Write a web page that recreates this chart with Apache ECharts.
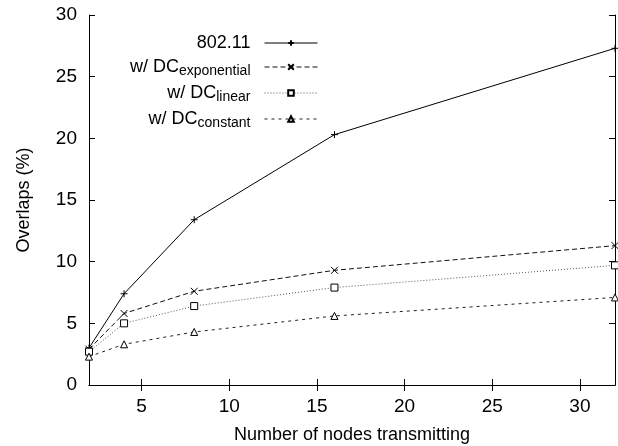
<!DOCTYPE html>
<html>
<head>
<meta charset="utf-8">
<script src="https://cdn.jsdelivr.net/npm/echarts@6/dist/echarts.min.js"></script>
<style>
  html, body { margin: 0; padding: 0; background: #fff; }
  #chart { width: 618px; height: 446px; }
</style>
</head>
<body>
<div id="chart"></div>
<script>
// number of nodes transmitting
const nodes = [2, 4, 8, 16, 32];
// overlaps (%)
const plain80211 = [3.0, 7.4, 13.4, 20.3, 27.3];
const dcExponential = [2.9, 5.8, 7.6, 9.3, 11.3];
const dcLinear = [2.7, 5.0, 6.4, 7.9, 9.7];
const dcConstant = [2.3, 3.3, 4.3, 5.6, 7.1];
const xTicks = [5, 10, 15, 20, 25, 30];

const pts = arr => nodes.map((n, i) => [n, arr[i]]);

const font = 'Liberation Sans, Arial, Helvetica, sans-serif';
const plusPath = 'path://M0,5L10,5M5,0L5,10';
const crossPath = 'path://M0,0L10,10M10,0L0,10';

const rich = {
  sub: { fontSize: 14, fontFamily: font, color: '#000', padding: [9, 0, 0, 0] }
};

function legendFor(name, top) {
  return {
    data: [name],
    right: 295,
    top: top,
    orient: 'vertical',
    align: 'right',
    itemWidth: 53,
    itemHeight: 7,
    selectedMode: false,
    lineStyle: { width: 1 },
    textStyle: { fontSize: 18, fontFamily: font, color: '#000', padding: [0, 9, 0, 0], rich: rich },
    formatter: function (n) {
      if (n === '802.11') return n;
      const sub = n.replace('w/ DC', '');
      return 'w/ DC{sub|' + sub + '}';
    }
  };
}

const axisLine = { show: true, lineStyle: { color: '#000', width: 1 } };
const tickStyle = { inside: true, length: 6, lineStyle: { color: '#000' } };

const option = {
  animation: false,
  backgroundColor: '#fff',
  grid: { left: 89, right: 3, top: 15, bottom: 61, containLabel: false, outerBoundsMode: 'none' },
  legend: [
    legendFor('802.11', 29),
    legendFor('w/ DCexponential', 53),
    legendFor('w/ DClinear', 79),
    legendFor('w/ DCconstant', 105)
  ],
  xAxis: [
    {
      type: 'value', min: 2, max: 32, position: 'bottom',
      name: 'Number of nodes transmitting', nameLocation: 'middle', nameGap: 41,
      nameTextStyle: { fontSize: 18, fontFamily: font, color: '#000' },
      axisLine: axisLine,
      axisTick: Object.assign({ customValues: xTicks }, tickStyle),
      axisLabel: { customValues: xTicks, fontSize: 19, fontFamily: font, color: '#000', margin: 12 },
      splitLine: { show: false }
    },
    {
      type: 'value', min: 2, max: 32, position: 'top',
      axisLine: axisLine,
      axisTick: Object.assign({ customValues: xTicks }, tickStyle),
      axisLabel: { show: false },
      splitLine: { show: false }
    }
  ],
  yAxis: [
    {
      type: 'value', min: 0, max: 30, interval: 5, position: 'left',
      name: 'Overlaps (%)', nameLocation: 'middle', nameGap: 56,
      nameTextStyle: { fontSize: 18, fontFamily: font, color: '#000' },
      axisLine: axisLine,
      axisTick: tickStyle,
      axisLabel: { fontSize: 19, fontFamily: font, color: '#000', margin: 12 },
      splitLine: { show: false }
    },
    {
      type: 'value', min: 0, max: 30, interval: 5, position: 'right',
      axisLine: axisLine,
      axisTick: tickStyle,
      axisLabel: { show: false },
      splitLine: { show: false }
    }
  ],
  series: [
    {
      name: '802.11', type: 'line', data: pts(plain80211),
      symbol: plusPath, symbolSize: 7,
      itemStyle: { color: '#000', borderColor: '#000', borderWidth: 1 },
      lineStyle: { color: '#000', width: 1, type: 'solid' }
    },
    {
      name: 'w/ DCexponential', type: 'line', data: pts(dcExponential),
      symbol: crossPath, symbolSize: 7,
      itemStyle: { color: '#000', borderColor: '#000', borderWidth: 1 },
      lineStyle: { color: '#111', width: 1, type: [5, 3] }
    },
    {
      name: 'w/ DClinear', type: 'line', data: pts(dcLinear),
      symbol: 'rect', symbolSize: 7,
      itemStyle: { color: '#fff', borderColor: '#000', borderWidth: 1 },
      lineStyle: { color: '#555', width: 1, type: [1, 2] }
    },
    {
      name: 'w/ DCconstant', type: 'line', data: pts(dcConstant),
      symbol: 'triangle', symbolSize: 7,
      itemStyle: { color: '#fff', borderColor: '#000', borderWidth: 1 },
      lineStyle: { color: '#222', width: 1, type: [3, 4] }
    }
  ]
};

const chart = echarts.init(document.getElementById('chart'), null, { renderer: 'canvas' });
chart.setOption(option);
</script>
</body>
</html>
